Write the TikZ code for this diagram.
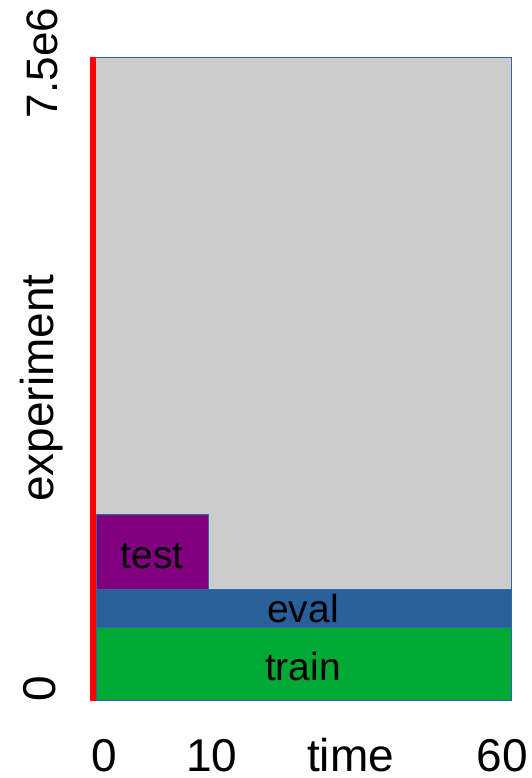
\documentclass[tikz,border=0pt]{standalone}
\usepackage{fontspec}
\setmainfont{Liberation Sans}
\definecolor{boxgray}{HTML}{CCCCCC}
\definecolor{edgeblue}{HTML}{3465A4}
\definecolor{testpurple}{HTML}{800080}
\definecolor{evalblue}{HTML}{2A6099}
\definecolor{traingreen}{HTML}{00A933}
\definecolor{axisred}{HTML}{FF0000}
\begin{document}
\begin{tikzpicture}[x=1pt,y=-1pt,
  block/.style={draw=edgeblue,line width=1pt},
  blocklabel/.style={font=\fontsize{39}{39}\selectfont,anchor=base,inner sep=0pt},
  ticklabel/.style={font=\fontsize{46}{46}\selectfont,anchor=base,inner sep=0pt},
  sidelabel/.style={font=\fontsize{46}{46}\selectfont,anchor=base,rotate=90,inner sep=0pt}]
\useasboundingbox (0,0) rectangle (531,778);
% background area and stacked bars
\path[block,fill=boxgray] (90,58) rectangle (511,700);
\path[block,fill=traingreen] (96,627) rectangle (511,700);
\path[block,fill=evalblue] (96,589) rectangle (511,627);
\path[block,fill=testpurple] (96,514) rectangle (208,589);
% time-zero marker
\fill[axisred] (90,57.5) rectangle (96,700.5);
% bar labels
\node[blocklabel] (test) at (152,568) {test};
\node[blocklabel] (eval) at (303,622) {eval};
\node[blocklabel] (train) at (303,680) {train};
% horizontal axis labels
\node[ticklabel] (x0) at (104.5,771) {0};
\node[ticklabel] (x10) at (212,771) {10};
\node[ticklabel] (xt) at (350.5,771) {time};
\node[ticklabel] (x60) at (502,771) {60};
% vertical axis labels
\node[sidelabel,font=\fontsize{44}{44}\selectfont] (ytop) at (57,63) {7.5e6};
\node[sidelabel] (ylab) at (53,388) {experiment};
\node[sidelabel] (y0) at (55,689) {0};
\end{tikzpicture}
\end{document}
